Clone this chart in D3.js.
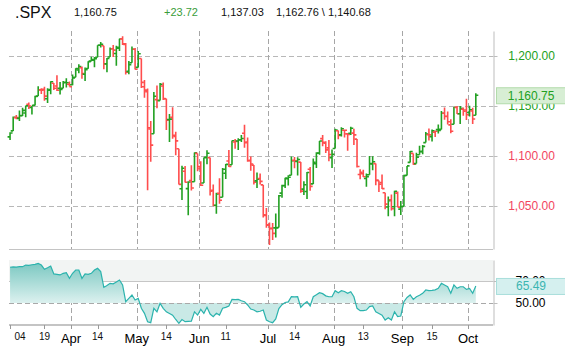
<!DOCTYPE html>
<html>
<head>
<meta charset="utf-8">
<script src="https://cdn.jsdelivr.net/npm/d3@7"></script>
<style>
  body { margin: 0; background: #fff; }
  text { font-family: "Liberation Sans", Arial, sans-serif; }
</style>
</head>
<body>
<svg id="chart" width="565" height="351"></svg>
<script>
// trading days per month, 2010
const daysMar = [4,5,8,9,10,11,12,15,16,17,18,19,22,23,24,25,26,29,30,31];
const daysApr = [1,5,6,7,8,9,12,13,14,15,16,19,20,21,22,23,26,27,28,29,30];
const daysMay = [3,4,5,6,7,10,11,12,13,14,17,18,19,20,21,24,25,26,27,28];
const daysJun = [1,2,3,4,7,8,9,10,11,14,15,16,17,18,21,22,23,24,25,28,29,30];
const daysJul = [1,2,6,7,8,9,12,13,14,15,16,19,20,21,22,23,26,27,28,29,30];
const daysAug = [2,3,4,5,6,9,10,11,12,13,16,17,18,19,20,23,24,25,26,27,30,31];
const daysSep = [1,2,3,7,8,9,10,13,14,15,16,17,20,21,22,23,24,27,28,29,30];
const daysOct = [1,4,5];

const open = [
  1119.1,1125.1,1138.4,1137.6,1140.2,1143.0,1151.7,1148.5,1150.8,1159.9,1166.1,1166.7,1157.3,1166.5,1172.7,1170.0,1167.6,1167.7,1173.8,1171.8,
  1171.2,1178.7,1186.0,1188.2,1181.8,1187.5,1194.9,1195.9,1198.7,1210.8,1210.2,1192.1,1199.0,1207.2,1202.5,1207.9,1217.1,1211.5,1184.6,1193.3,1206.8,
  1188.6,1197.5,1169.2,1164.4,1127.0,1122.3,1156.4,1155.4,1170.0,1157.2,1136.5,1138.8,1119.6,1107.3,1067.3,1084.8,1067.4,1075.5,1074.3,1102.6,
  1087.3,1073.0,1098.8,1098.4,1065.8,1050.8,1062.8,1058.8,1082.7,1095.0,1091.2,1114.0,1115.0,1116.2,1122.8,1113.9,1095.6,1090.9,1075.1,1077.5,1071.1,1040.6,
  1031.1,1027.7,1028.1,1028.5,1062.9,1070.5,1077.2,1080.7,1095.6,1094.5,1093.9,1066.9,1064.5,1086.7,1072.1,1092.2,1102.9,1117.4,1112.8,1108.1,1098.4,
  1107.5,1125.3,1121.1,1125.8,1122.1,1122.8,1122.9,1116.9,1081.5,1082.2,1077.5,1081.2,1092.1,1092.4,1075.6,1073.4,1063.2,1049.0,1056.3,1049.3,1062.9,1046.9,
  1049.7,1080.7,1093.6,1102.6,1092.4,1101.2,1104.6,1113.4,1121.2,1119.4,1123.9,1126.4,1126.6,1142.8,1139.5,1131.1,1131.7,1148.6,1142.3,1146.8,1146.0,
  1143.5,1145.0,1140.68
];
const high = [
  1123.7,1139.4,1141.1,1145.4,1148.3,1150.2,1153.4,1150.0,1160.3,1169.8,1167.8,1169.2,1167.8,1174.7,1173.0,1180.7,1173.9,1174.9,1177.8,1174.6,
  1181.4,1187.7,1191.8,1189.6,1188.6,1194.7,1199.2,1199.0,1210.7,1213.9,1210.2,1197.9,1208.6,1210.9,1210.3,1217.3,1219.8,1212.9,1195.1,1209.4,1208.0,
  1205.1,1197.5,1175.9,1167.6,1135.1,1163.9,1170.5,1172.9,1173.6,1157.2,1141.9,1148.7,1124.3,1107.3,1090.2,1089.9,1074.8,1090.8,1103.5,1102.6,
  1094.8,1098.6,1105.7,1098.4,1071.4,1063.2,1077.7,1087.9,1092.0,1105.9,1115.6,1116.9,1117.7,1121.0,1131.2,1118.5,1099.6,1090.9,1083.6,1082.6,1071.1,1048.1,
  1033.6,1032.9,1042.5,1060.9,1071.3,1078.2,1080.8,1099.5,1099.1,1098.7,1093.9,1074.7,1083.9,1088.9,1097.5,1103.7,1115.0,1120.9,1114.7,1115.9,1106.4,
  1127.3,1125.4,1128.8,1126.6,1123.1,1129.2,1127.2,1116.9,1086.7,1086.3,1082.6,1100.1,1099.8,1092.4,1075.6,1081.6,1063.2,1059.4,1061.5,1065.2,1064.4,1055.1,
  1081.3,1090.1,1105.1,1102.6,1103.3,1110.3,1110.9,1123.9,1127.4,1126.5,1125.4,1131.5,1144.9,1148.6,1144.4,1136.8,1148.9,1149.9,1150.0,1148.6,1157.2,
  1150.3,1148.2,1162.76
];
const low = [
  1116.0,1125.1,1136.8,1134.9,1140.1,1138.7,1146.9,1141.5,1150.4,1159.9,1161.9,1155.3,1152.9,1161.8,1166.0,1165.1,1161.5,1167.7,1168.5,1169.4,
  1170.7,1178.7,1182.8,1177.3,1175.1,1187.2,1194.7,1188.8,1198.7,1208.5,1186.8,1183.7,1199.0,1198.9,1190.2,1205.1,1211.1,1181.6,1181.8,1193.3,1186.5,
  1188.6,1168.1,1158.2,1065.8,1094.2,1122.3,1147.7,1155.4,1156.1,1126.1,1114.0,1117.2,1100.7,1071.6,1055.9,1073.4,1040.8,1065.6,1074.3,1084.8,
  1069.9,1072.9,1091.8,1060.5,1049.9,1042.2,1052.3,1058.8,1077.1,1089.0,1091.2,1107.3,1105.9,1113.9,1108.2,1094.2,1085.3,1071.6,1067.9,1071.5,1038.4,1028.3,
  1010.9,1015.9,1018.4,1028.5,1058.2,1068.1,1070.5,1080.7,1087.7,1080.5,1063.3,1061.1,1056.9,1065.3,1072.1,1087.9,1101.3,1109.8,1103.1,1094.8,1088.0,
  1107.5,1116.8,1119.5,1118.6,1105.3,1120.9,1111.0,1088.6,1076.7,1079.0,1069.2,1081.2,1085.8,1070.7,1063.9,1067.1,1046.7,1039.8,1045.4,1039.7,1048.8,1040.9,
  1049.7,1080.4,1093.6,1091.2,1092.4,1101.2,1101.7,1113.4,1115.6,1114.6,1118.9,1122.4,1126.6,1136.2,1131.6,1122.8,1131.7,1142.0,1132.1,1140.3,1136.1,
  1139.4,1131.9,1140.68
];
const close = [
  1123.0,1138.7,1138.5,1140.5,1145.6,1150.2,1150.0,1150.5,1159.5,1166.2,1165.8,1159.9,1165.8,1174.2,1167.7,1165.7,1166.6,1173.2,1173.3,1169.4,
  1178.1,1187.4,1189.4,1182.5,1186.4,1194.4,1196.5,1197.3,1210.7,1211.7,1192.1,1197.5,1207.2,1205.9,1208.7,1217.3,1212.1,1183.7,1191.4,1206.8,1186.7,
  1202.3,1173.6,1165.9,1128.2,1110.9,1159.7,1155.8,1171.7,1157.4,1135.7,1136.9,1120.8,1115.1,1071.6,1087.7,1073.7,1074.0,1068.0,1103.1,1089.4,
  1070.7,1098.4,1102.8,1064.9,1050.5,1062.0,1055.7,1086.8,1091.6,1089.6,1115.2,1114.6,1116.0,1117.5,1113.2,1095.3,1092.0,1073.7,1076.8,1074.6,1041.2,1030.7,
  1027.4,1022.6,1028.1,1060.3,1070.3,1078.0,1078.8,1095.3,1095.2,1096.5,1064.9,1071.3,1083.5,1069.6,1093.7,1102.7,1115.0,1113.8,1106.1,1101.5,1101.6,
  1125.9,1120.5,1127.2,1125.8,1121.6,1127.8,1121.1,1089.5,1083.6,1079.3,1079.4,1092.5,1094.2,1075.6,1071.7,1067.4,1051.9,1055.3,1047.2,1064.6,1048.9,1049.3,
  1080.3,1090.1,1104.5,1091.8,1098.9,1104.2,1109.6,1121.9,1121.1,1125.1,1124.7,1125.6,1142.7,1139.8,1134.3,1124.8,1148.7,1142.2,1147.7,1144.7,1141.2,
  1146.2,1137.03,1160.75
];
const firstPrevClose = 1118.8;

// RSI
const rsi = [
  82.5,82.8,82.7,83.0,83.0,84.5,84.3,84.8,85.2,86.0,84.5,80.6,82.0,83.6,76.4,76.0,75.5,77.0,77.6,72.4,
  77.0,80.0,80.0,72.4,76.4,76.0,77.0,80.0,81.5,78.5,64.2,66.0,67.9,67.5,69.1,70.9,66.4,51.2,54.2,57.3,52.7,
  54.2,45.2,40.6,33.0,32.1,45.2,42.0,49.7,45.2,42.0,40.5,39.0,35.0,31.5,35.0,33.0,33.3,33.5,42.0,39.0,
  44.2,40.6,46.1,40.0,37.6,40.6,39.0,45.2,46.0,47.3,53.3,53.0,53.3,52.0,51.2,48.2,44.5,43.6,42.0,42.5,43.6,34.5,
  33.0,32.1,35.5,45.0,48.5,50.5,51.0,55.7,55.5,55.7,46.1,49.1,51.2,47.3,55.7,57.5,59.4,58.5,56.5,55.7,55.7,
  61.2,59.4,61.2,60.5,58.8,60.3,55.7,45.2,43.0,43.0,43.6,46.7,47.3,42.0,40.5,39.0,34.5,36.5,34.5,42.0,37.6,38.2,
  51.2,55.0,57.3,53.3,55.7,57.0,58.8,61.8,61.2,61.5,62.0,63.3,67.9,66.4,64.8,58.8,66.4,63.3,64.8,64.8,62.4,
  63.3,58.8,65.49
];

const priceTicks = [1050, 1100, 1150, 1200];
const rsiTicks = [50, 70];
const monthTicks = ["2010-04-01","2010-05-03","2010-06-01","2010-07-01","2010-08-02","2010-09-01","2010-10-01"];
const monthLabels = ["Apr","May","Jun","Jul","Aug","Sep","Oct"];
const dayTicks = ["2010-03-04","2010-03-19","2010-04-14","2010-05-14","2010-06-11","2010-07-14","2010-08-13","2010-09-15"];
const dayLabels = ["04","19","14","14","11","14","13","15"];

const symbol = ".SPX";
const lastPrice = 1160.75, netChange = 23.72, prevClose = 1137.03, dayHigh = 1162.76, dayLow = 1140.68;
const lastRsi = 65.49;

// build the date list
const pad = n => String(n).padStart(2, "0");
const dates = [];
[[3,daysMar],[4,daysApr],[5,daysMay],[6,daysJun],[7,daysJul],[8,daysAug],[9,daysSep],[10,daysOct]]
  .forEach(([m, ds]) => ds.forEach(d => dates.push(`2010-${pad(m)}-${pad(d)}`)));
const bars = dates.map((d, i) => ({
  date: d, o: open[i], h: high[i], l: low[i], c: close[i],
  up: close[i] >= (i ? close[i-1] : firstPrevClose), r: rsi[i]
}));

const svg = d3.select("#chart");
const fmt = d3.format(",.2f");
const green = "#22a022", red = "#ff4d4d";

// layout
const left = 8.5, right = 493;
const slots = 155; // chart leaves room for a few empty days on the right
const step = (right - left) / slots;
const mainTop = 31, mainBottom = 249;
const subTop = 260, subBottom = 325;

const x = d3.scaleBand().domain(dates).range([left, left + step * dates.length]).padding(0);
const y = d3.scaleLinear().domain([1007, 1225]).range([mainBottom, mainTop]);
const yR = d3.scaleLinear().domain([30, 89.1]).range([subBottom, subTop]);
const cx = d => x(d) + x.bandwidth() / 2;

// ---------- header ----------
const head = svg.append("g").attr("font-size", 11).attr("fill", "#111");
head.append("text").attr("x", 15).attr("y", 18).attr("font-size", 16).text(symbol);
head.append("text").attr("x", 74).attr("y", 16).text(fmt(lastPrice));
head.append("text").attr("x", 164).attr("y", 16).attr("fill", "#3a9d3a").text("+" + netChange.toFixed(2));
head.append("text").attr("x", 221).attr("y", 16).text(fmt(prevClose));
head.append("text").attr("x", 276).attr("y", 16).text(fmt(dayHigh) + " \\ " + fmt(dayLow));

// ---------- main panel ----------
// horizontal grid
svg.append("g")
  .selectAll("line").data(priceTicks).join("line")
  .attr("x1", 9).attr("x2", right)
  .attr("y1", d => Math.round(y(d)) + 0.5).attr("y2", d => Math.round(y(d)) + 0.5)
  .attr("stroke", "#b8b8b8").attr("stroke-dasharray", "5,3");

// vertical month grid (both panels)
const vg = svg.append("g").attr("stroke", "#a6a6a6").attr("stroke-dasharray", "5,3");
vg.selectAll(".vm").data(monthTicks).join("line").attr("class", "vm")
  .attr("x1", d => Math.round(x(d)) + 0.5).attr("x2", d => Math.round(x(d)) + 0.5)
  .attr("y1", mainTop).attr("y2", mainBottom);
vg.selectAll(".vs").data(monthTicks).join("line").attr("class", "vs")
  .attr("x1", d => Math.round(x(d)) + 0.5).attr("x2", d => Math.round(x(d)) + 0.5)
  .attr("y1", subTop).attr("y2", subBottom);

// bottom line of main panel
svg.append("line").attr("x1", 9).attr("x2", right).attr("y1", mainBottom + 0.5).attr("y2", mainBottom + 0.5)
  .attr("stroke", "#c4c4c4");

// right axis of main panel
const axP = svg.append("g").attr("transform", `translate(${right + 0.5},0)`)
  .call(d3.axisRight(y).tickValues(priceTicks).tickSize(4).tickSizeOuter(0).tickFormat(fmt));
axP.select(".domain").attr("stroke", "#bdbdbd");
axP.selectAll(".tick line").attr("stroke", "#bdbdbd");
axP.selectAll(".tick text")
  .attr("x", 38).attr("text-anchor", "middle")
  .attr("font-family", "Liberation Sans, Arial, sans-serif").attr("font-size", 12)
  .attr("fill", d => d >= prevClose ? green : "#f2455e");

// OHLC bars
const tk = 2.5;
svg.append("g").attr("stroke-width", 1.6).attr("fill", "none")
  .selectAll("path").data(bars).join("path")
  .attr("stroke", d => d.up ? green : red)
  .attr("d", d => {
    const c = cx(d.date);
    return `M${c},${y(d.h)}V${y(d.l)}M${c - tk},${y(d.o)}H${c}M${c},${y(d.c)}H${c + tk}`;
  });

// last price box
const lp = svg.append("g").attr("transform", `translate(0,${y(lastPrice)})`);
lp.append("rect").attr("x", 496.5).attr("y", -7.5).attr("width", 70).attr("height", 16)
  .attr("fill", "#d7eed4").attr("stroke", "#b2dbab");
lp.append("text").attr("x", 531).attr("y", 4.5).attr("text-anchor", "middle")
  .attr("font-size", 12).attr("fill", green).text(fmt(lastPrice));

// ---------- RSI panel ----------
svg.append("rect").attr("x", 9).attr("y", subTop).attr("width", right - 9).attr("height", yR(70) - subTop)
  .attr("fill", "#f2f4f3");
svg.append("line").attr("x1", 9).attr("x2", right).attr("y1", Math.round(yR(70)) + 0.5).attr("y2", Math.round(yR(70)) + 0.5)
  .attr("stroke", "#c6c6c6");

const defs = svg.append("defs");
const grad = defs.append("linearGradient").attr("id", "rsiGrad")
  .attr("gradientUnits", "userSpaceOnUse").attr("x1", 0).attr("x2", 0)
  .attr("y1", subTop).attr("y2", yR(50));
grad.append("stop").attr("offset", 0).attr("stop-color", "#74c5be");
grad.append("stop").attr("offset", 1).attr("stop-color", "#dcf1ef");
defs.append("clipPath").attr("id", "clipUp").append("rect")
  .attr("x", 0).attr("y", 0).attr("width", 565).attr("height", yR(50));
defs.append("clipPath").attr("id", "clipDn").append("rect")
  .attr("x", 0).attr("y", yR(50)).attr("width", 565).attr("height", 351 - yR(50));

const area = d3.area().x(d => cx(d.date)).y0(yR(50)).y1(d => yR(d.r));
svg.append("path").datum(bars).attr("d", area).attr("fill", "url(#rsiGrad)").attr("clip-path", "url(#clipUp)");
svg.append("path").datum(bars).attr("d", area).attr("fill", "#c9e9e6").attr("clip-path", "url(#clipDn)");

svg.append("line").attr("x1", 9).attr("x2", right).attr("y1", Math.round(yR(50)) + 0.5).attr("y2", Math.round(yR(50)) + 0.5)
  .attr("stroke", "#a9a9a9").attr("stroke-dasharray", "5,3");

svg.append("path").datum(bars)
  .attr("d", d3.line().x(d => cx(d.date)).y(d => yR(d.r)))
  .attr("fill", "none").attr("stroke", "#2bb3ad").attr("stroke-width", 1.2);

// bottom axis line
svg.append("line").attr("x1", 9).attr("x2", right).attr("y1", subBottom).attr("y2", subBottom)
  .attr("stroke", "#c4c4c4").attr("stroke-width", 2);

// right axis of RSI panel
const axR = svg.append("g").attr("transform", `translate(${right + 0.5},0)`)
  .call(d3.axisRight(yR).tickValues(rsiTicks).tickSize(4).tickSizeOuter(0).tickFormat(d3.format(".2f")));
axR.select(".domain").attr("stroke", "#bdbdbd");
axR.selectAll(".tick line").attr("stroke", "#bdbdbd");
axR.selectAll(".tick text")
  .attr("x", 37).attr("text-anchor", "middle")
  .attr("font-family", "Liberation Sans, Arial, sans-serif").attr("font-size", 12).attr("fill", "#000");

const lr = svg.append("g").attr("transform", `translate(0,${yR(lastRsi)})`);
lr.append("rect").attr("x", 496.5).attr("y", -7.5).attr("width", 70).attr("height", 16)
  .attr("fill", "#d5f0ef").attr("stroke", "#a9dedb");
lr.append("text").attr("x", 531).attr("y", 4.5).attr("text-anchor", "middle")
  .attr("font-size", 12).attr("fill", "#3bb5b1").text(lastRsi.toFixed(2));

// ---------- time axis ----------
const ta = svg.append("g");
ta.selectAll(".mt").data(monthTicks).join("line").attr("class", "mt")
  .attr("x1", d => Math.round(x(d)) + 0.5).attr("x2", d => Math.round(x(d)) + 0.5)
  .attr("y1", subBottom).attr("y2", subBottom + 4).attr("stroke", "#999");
ta.selectAll(".dt").data(dayTicks).join("line").attr("class", "dt")
  .attr("x1", d => Math.round(cx(d)) + 0.5).attr("x2", d => Math.round(cx(d)) + 0.5)
  .attr("y1", subBottom).attr("y2", subBottom + 4).attr("stroke", "#999");
ta.selectAll(".ml").data(monthTicks).join("text").attr("class", "ml")
  .attr("x", d => x(d)).attr("y", 343).attr("text-anchor", "middle")
  .attr("font-size", 13).attr("fill", "#000")
  .text((d, i) => monthLabels[i]);
ta.selectAll(".dl").data(dayTicks).join("text").attr("class", "dl")
  .attr("x", (d, i) => i === 0 ? Math.max(cx(d), 20) : cx(d)).attr("y", 340).attr("text-anchor", "middle")
  .attr("font-size", 10).attr("fill", "#111")
  .text((d, i) => dayLabels[i]);
</script>
</body>
</html>
